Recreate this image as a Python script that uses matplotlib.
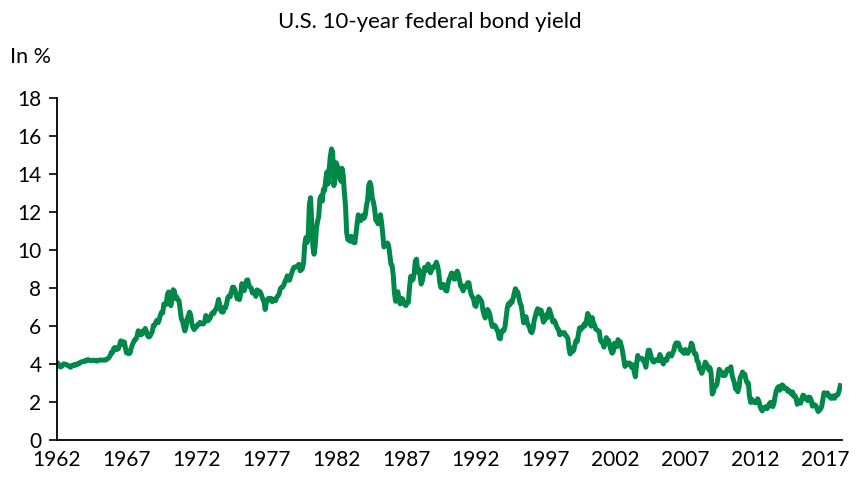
import numpy as np
import matplotlib
matplotlib.use("Agg")
import matplotlib.pyplot as plt

# monthly 10-year yield, Jan 1962 .. Feb 2018 (in %)
yield_pct = [
    4.08, 4.04, 3.93, 3.84, 3.87, 3.91, 4.01, 3.98, 3.98, 3.93, 3.92, 3.86,  # 1962
    3.83, 3.92, 3.93, 3.97, 3.93, 3.99, 4.02, 4.00, 4.08, 4.11, 4.12, 4.13,  # 1963
    4.17, 4.15, 4.22, 4.23, 4.20, 4.17, 4.19, 4.19, 4.20, 4.19, 4.15, 4.18,  # 1964
    4.19, 4.21, 4.21, 4.20, 4.21, 4.21, 4.20, 4.25, 4.29, 4.35, 4.45, 4.62,  # 1965
    4.61, 4.83, 4.87, 4.75, 4.78, 4.81, 5.02, 5.22, 5.18, 5.01, 5.16, 4.84,  # 1966
    4.58, 4.63, 4.54, 4.59, 4.85, 5.02, 5.16, 5.28, 5.30, 5.48, 5.75, 5.70,  # 1967
    5.53, 5.56, 5.74, 5.64, 5.87, 5.72, 5.50, 5.42, 5.46, 5.58, 5.70, 6.03,  # 1968
    6.04, 6.19, 6.30, 6.17, 6.32, 6.57, 6.72, 6.69, 7.16, 7.10, 7.14, 7.65,  # 1969
    7.79, 7.24, 7.07, 7.39, 7.91, 7.84, 7.46, 7.53, 7.39, 7.33, 6.84, 6.39,  # 1970
    6.24, 6.00, 5.74, 5.93, 6.39, 6.52, 6.73, 6.58, 6.14, 5.93, 5.81, 5.93,  # 1971
    5.95, 6.08, 6.07, 6.19, 6.13, 6.11, 6.11, 6.21, 6.55, 6.48, 6.28, 6.36,  # 1972
    6.46, 6.64, 6.71, 6.67, 6.85, 6.90, 7.13, 7.40, 7.09, 6.79, 6.73, 6.74,  # 1973
    6.99, 6.96, 7.21, 7.51, 7.58, 7.54, 7.81, 8.04, 8.04, 7.90, 7.68, 7.43,  # 1974
    7.50, 7.39, 7.73, 8.23, 8.06, 7.86, 8.06, 8.40, 8.43, 8.14, 8.05, 8.00,  # 1975
    7.74, 7.79, 7.73, 7.56, 7.90, 7.86, 7.83, 7.77, 7.59, 7.41, 7.29, 6.87,  # 1976
    7.21, 7.39, 7.46, 7.37, 7.46, 7.28, 7.33, 7.40, 7.34, 7.52, 7.58, 7.69,  # 1977
    7.96, 8.03, 8.04, 8.15, 8.35, 8.46, 8.64, 8.41, 8.42, 8.64, 8.81, 9.01,  # 1978
    9.10, 9.10, 9.12, 9.18, 9.25, 8.91, 8.95, 9.03, 9.33, 10.30, 10.65, 10.39,  # 1979
    10.80, 12.41, 12.75, 11.47, 10.18, 9.78, 10.25, 11.10, 11.51, 11.75, 12.68, 12.84,  # 1980
    12.57, 13.19, 13.12, 13.68, 14.10, 13.47, 14.28, 14.94, 15.32, 15.15, 13.39, 13.72,  # 1981
    14.59, 14.43, 13.86, 13.87, 13.62, 14.30, 13.95, 13.06, 12.34, 10.91, 10.55, 10.54,  # 1982
    10.46, 10.72, 10.51, 10.40, 10.38, 10.85, 11.38, 11.85, 11.65, 11.54, 11.69, 11.83,  # 1983
    11.67, 11.84, 12.32, 12.63, 13.41, 13.56, 13.36, 12.72, 12.52, 12.16, 11.57, 11.50,  # 1984
    11.38, 11.51, 11.86, 11.43, 10.85, 10.16, 10.31, 10.33, 10.37, 10.24, 9.78, 9.26,  # 1985
    9.19, 8.70, 7.78, 7.30, 7.71, 7.80, 7.30, 7.17, 7.45, 7.43, 7.25, 7.11,  # 1986
    7.08, 7.25, 7.25, 8.02, 8.61, 8.40, 8.45, 8.76, 9.42, 9.52, 8.86, 8.99,  # 1987
    8.67, 8.21, 8.37, 8.72, 9.09, 8.92, 9.06, 9.26, 8.98, 8.80, 8.96, 9.11,  # 1988
    9.09, 9.17, 9.36, 9.18, 8.86, 8.28, 8.02, 8.11, 8.19, 8.01, 7.87, 7.84,  # 1989
    8.21, 8.47, 8.59, 8.79, 8.76, 8.48, 8.47, 8.75, 8.89, 8.72, 8.39, 8.08,  # 1990
    8.09, 7.85, 8.11, 8.04, 8.07, 8.28, 8.27, 7.90, 7.65, 7.53, 7.42, 7.09,  # 1991
    7.03, 7.34, 7.54, 7.48, 7.39, 7.26, 6.84, 6.59, 6.42, 6.59, 6.87, 6.77,  # 1992
    6.60, 6.26, 5.98, 5.97, 6.04, 5.96, 5.81, 5.68, 5.36, 5.33, 5.72, 5.77,  # 1993
    5.75, 5.97, 6.48, 6.97, 7.18, 7.10, 7.30, 7.24, 7.46, 7.74, 7.96, 7.81,  # 1994
    7.78, 7.47, 7.20, 7.06, 6.63, 6.17, 6.28, 6.49, 6.20, 6.04, 5.93, 5.71,  # 1995
    5.65, 5.81, 6.27, 6.51, 6.74, 6.91, 6.87, 6.64, 6.83, 6.53, 6.20, 6.30,  # 1996
    6.58, 6.42, 6.69, 6.89, 6.71, 6.49, 6.22, 6.30, 6.21, 6.03, 5.88, 5.81,  # 1997
    5.54, 5.57, 5.65, 5.64, 5.65, 5.50, 5.46, 5.34, 4.81, 4.53, 4.83, 4.65,  # 1998
    4.72, 5.00, 5.23, 5.18, 5.54, 5.90, 5.79, 5.94, 5.92, 6.11, 6.03, 6.28,  # 1999
    6.66, 6.52, 6.26, 5.99, 6.44, 6.10, 6.05, 5.83, 5.80, 5.74, 5.72, 5.24,  # 2000
    5.16, 5.10, 4.89, 5.14, 5.39, 5.28, 5.24, 4.97, 4.73, 4.57, 4.65, 5.09,  # 2001
    5.04, 4.91, 5.28, 5.21, 5.16, 4.93, 4.65, 4.26, 3.87, 3.94, 4.05, 4.03,  # 2002
    4.05, 3.90, 3.81, 3.96, 3.57, 3.33, 3.98, 4.45, 4.27, 4.29, 4.30, 4.27,  # 2003
    4.15, 4.08, 3.83, 4.35, 4.72, 4.73, 4.50, 4.28, 4.13, 4.10, 4.19, 4.23,  # 2004
    4.22, 4.17, 4.50, 4.34, 4.14, 4.00, 4.18, 4.26, 4.20, 4.46, 4.54, 4.47,  # 2005
    4.42, 4.57, 4.72, 4.99, 5.11, 5.11, 5.09, 4.88, 4.72, 4.73, 4.60, 4.56,  # 2006
    4.76, 4.72, 4.56, 4.69, 4.75, 5.10, 5.00, 4.67, 4.52, 4.53, 4.15, 4.10,  # 2007
    3.74, 3.74, 3.51, 3.68, 3.88, 4.10, 4.01, 3.89, 3.69, 3.81, 3.53, 2.42,  # 2008
    2.52, 2.87, 2.82, 2.93, 3.29, 3.72, 3.56, 3.59, 3.40, 3.39, 3.40, 3.59,  # 2009
    3.73, 3.69, 3.73, 3.85, 3.42, 3.20, 3.01, 2.70, 2.65, 2.54, 2.76, 3.29,  # 2010
    3.39, 3.58, 3.41, 3.46, 3.17, 3.00, 3.00, 2.30, 1.98, 2.15, 2.01, 1.98,  # 2011
    1.97, 1.97, 2.17, 2.05, 1.80, 1.62, 1.53, 1.68, 1.72, 1.75, 1.65, 1.72,  # 2012
    1.91, 1.98, 1.96, 1.76, 1.93, 2.30, 2.58, 2.74, 2.81, 2.62, 2.72, 2.90,  # 2013
    2.86, 2.71, 2.72, 2.71, 2.56, 2.60, 2.54, 2.42, 2.53, 2.30, 2.33, 2.21,  # 2014
    1.88, 1.98, 2.04, 1.94, 2.20, 2.36, 2.32, 2.17, 2.17, 2.07, 2.26, 2.24,  # 2015
    2.09, 1.78, 1.89, 1.81, 1.81, 1.64, 1.50, 1.56, 1.63, 1.76, 2.14, 2.49,  # 2016
    2.43, 2.42, 2.48, 2.30, 2.30, 2.19, 2.32, 2.21, 2.20, 2.36, 2.35, 2.40,  # 2017
    2.58, 2.86,  # 2018
]
start_year = 1962
tick_years = [1962, 1967, 1972, 1977, 1982, 1987, 1992, 1997, 2002, 2007, 2012, 2017]
y_ticks = [0, 2, 4, 6, 8, 10, 12, 14, 16, 18]

t = start_year + np.arange(len(yield_pct)) / 12.0

plt.rcParams['font.family'] = ['Lato', 'DejaVu Sans']

fig = plt.figure(figsize=(8.6, 5.0), dpi=100)
ax = fig.add_axes([0.066, 0.12, 0.913, 0.684])

ax.plot(t, yield_pct, color="#00884A", lw=3.6, solid_joinstyle="round")

ax.set_xlim(1962, 2018.2)
ax.set_ylim(0, 18)
ax.set_yticks(y_ticks)
ax.set_xticks(tick_years)
ax.tick_params(axis="y", direction="out", length=6, width=1.2, labelsize=15, pad=5)
ax.tick_params(axis="x", length=0, labelsize=15, pad=7)

for s in ["top", "right"]:
    ax.spines[s].set_visible(False)
for s in ["left", "bottom"]:
    ax.spines[s].set_linewidth(1.3)

fig.text(0.5, 0.955, "U.S. 10-year federal bond yield", ha="center", va="center", fontsize=16)
fig.text(0.012, 0.886, "In %", ha="left", va="center", fontsize=15.5)

fig.savefig("out.png", dpi=100)
